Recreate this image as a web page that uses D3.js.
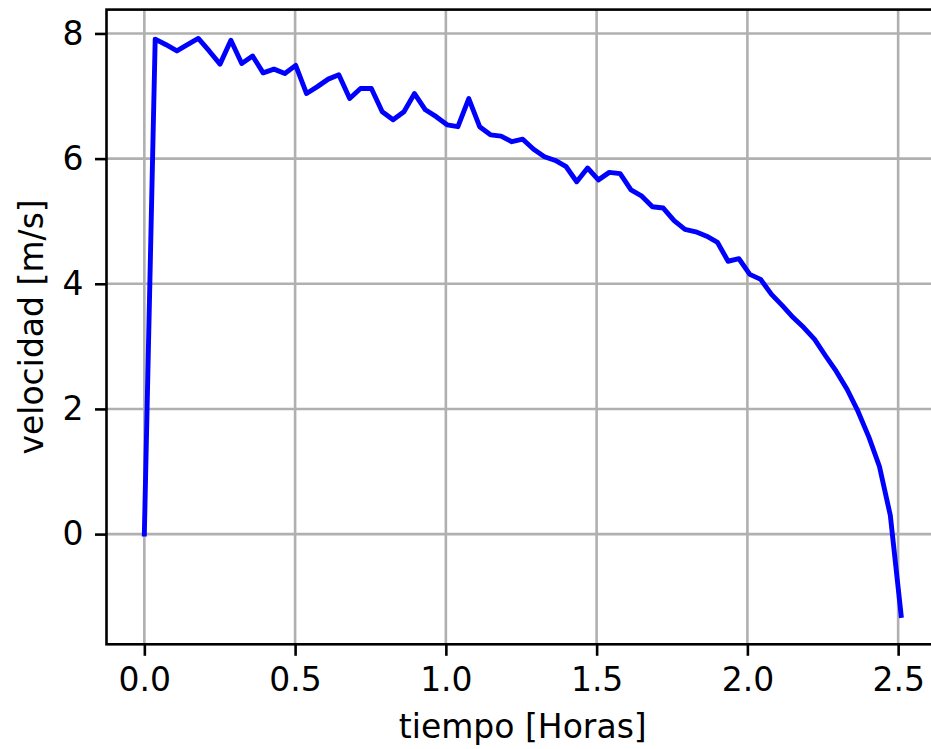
<!DOCTYPE html>
<html>
<head>
<meta charset="utf-8">
<script src="https://cdn.jsdelivr.net/npm/d3@7"></script>
<style>
  html, body { margin: 0; padding: 0; background: #ffffff; }
  svg { display: block; }
  text { font-family: "DejaVu Sans", sans-serif; fill: #000; }
</style>
</head>
<body>
<svg id="chart" width="931" height="749"></svg>
<script>
// Time since start (hours)
const tiempo = [
  0.000, 0.036, 0.072, 0.108, 0.143, 0.179, 0.215, 0.251, 0.287, 0.323,
  0.359, 0.394, 0.430, 0.466, 0.502, 0.538, 0.574, 0.610, 0.645, 0.681,
  0.717, 0.753, 0.789, 0.825, 0.861, 0.896, 0.932, 0.968, 1.004, 1.040,
  1.076, 1.112, 1.148, 1.183, 1.219, 1.255, 1.291, 1.327, 1.363, 1.399,
  1.434, 1.470, 1.506, 1.542, 1.578, 1.614, 1.650, 1.685, 1.721, 1.757,
  1.793, 1.829, 1.865, 1.901, 1.936, 1.972, 2.008, 2.044, 2.080, 2.116,
  2.152, 2.187, 2.223, 2.259, 2.295, 2.331, 2.367, 2.403, 2.438, 2.474,
  2.510
];

// Speed (m/s)
const velocidad = [
  0.00, 7.91, 7.82, 7.72, 7.82, 7.92, 7.72, 7.51, 7.89, 7.52,
  7.64, 7.37, 7.43, 7.36, 7.49, 7.04, 7.15, 7.27, 7.34, 6.96,
  7.12, 7.12, 6.75, 6.62, 6.75, 7.04, 6.78, 6.67, 6.54, 6.51,
  6.96, 6.51, 6.38, 6.36, 6.27, 6.31, 6.15, 6.03, 5.97, 5.87,
  5.63, 5.85, 5.66, 5.78, 5.76, 5.50, 5.40, 5.23, 5.21, 5.01,
  4.87, 4.83, 4.76, 4.66, 4.36, 4.40, 4.15, 4.07, 3.83, 3.65,
  3.46, 3.30, 3.11, 2.85, 2.60, 2.31, 1.96, 1.55, 1.08, 0.30,
  -1.30
];

const xTicks = [0.0, 0.5, 1.0, 1.5, 2.0, 2.5];
const yTicks = [0, 2, 4, 6, 8];

const xLabel = "tiempo [Horas]";
const yLabel = "velocidad [m/s]";

const svg = d3.select("#chart");

// Axes box in page pixels (right edge runs past the page width)
const box = { left: 106.5, right: 939, top: 9.6, bottom: 644.3 };

const pad = (ext) => {
  const m = (ext[1] - ext[0]) * 0.05;
  return [ext[0] - m, ext[1] + m];
};

const x = d3.scaleLinear()
  .domain(pad(d3.extent(tiempo)))
  .range([box.left, box.right]);

const y = d3.scaleLinear()
  .domain(pad(d3.extent(velocidad)))
  .range([box.bottom, box.top]);

const fontSize = 33;
const tickLen = 11.5;
const tickPad = 11.5;
const thin = 2.6;

const clipId = "plot-clip";
svg.append("defs").append("clipPath").attr("id", clipId)
  .append("rect")
  .attr("x", box.left).attr("y", box.top)
  .attr("width", box.right - box.left).attr("height", box.bottom - box.top);

// Grid lines
const grid = svg.append("g").attr("clip-path", `url(#${clipId})`);
grid.selectAll("line.gx").data(xTicks).enter().append("line")
  .attr("class", "gx")
  .attr("x1", d => x(d)).attr("x2", d => x(d))
  .attr("y1", box.top).attr("y2", box.bottom)
  .attr("stroke", "#b0b0b0").attr("stroke-width", thin);
grid.selectAll("line.gy").data(yTicks).enter().append("line")
  .attr("class", "gy")
  .attr("x1", box.left).attr("x2", box.right)
  .attr("y1", d => y(d)).attr("y2", d => y(d))
  .attr("stroke", "#b0b0b0").attr("stroke-width", thin);

// Data line
const line = d3.line()
  .x((d, i) => x(tiempo[i]))
  .y(d => y(d));

svg.append("g").attr("clip-path", `url(#${clipId})`)
  .append("path")
  .datum(velocidad)
  .attr("d", line)
  .attr("fill", "none")
  .attr("stroke", "#0000ff")
  .attr("stroke-width", 4.9)
  .attr("stroke-linejoin", "round")
  .attr("stroke-linecap", "square");

// Axes
const xAxis = d3.axisBottom(x)
  .tickValues(xTicks)
  .tickFormat(d3.format(".1f"))
  .tickSize(tickLen)
  .tickPadding(tickPad)
  .tickSizeOuter(0);

const yAxis = d3.axisLeft(y)
  .tickValues(yTicks)
  .tickFormat(d3.format("d"))
  .tickSize(tickLen)
  .tickPadding(tickPad)
  .tickSizeOuter(0);

const gx = svg.append("g")
  .attr("transform", `translate(0,${box.bottom})`)
  .call(xAxis);
const gy = svg.append("g")
  .attr("transform", `translate(${box.left},0)`)
  .call(yAxis);

[gx, gy].forEach(g => {
  g.select(".domain").remove();
  g.selectAll(".tick line").attr("stroke", "#000").attr("stroke-width", thin);
  g.selectAll(".tick text")
    .attr("font-size", fontSize)
    .attr("font-family", "DejaVu Sans, sans-serif")
    .attr("fill", "#000");
});

// Spines
svg.append("rect")
  .attr("x", box.left).attr("y", box.top)
  .attr("width", box.right - box.left).attr("height", box.bottom - box.top)
  .attr("fill", "none")
  .attr("stroke", "#000")
  .attr("stroke-width", thin);

// Axis titles
svg.append("text")
  .attr("x", (box.left + box.right) / 2)
  .attr("y", 738)
  .attr("text-anchor", "middle")
  .attr("font-size", fontSize)
  .text(xLabel);

svg.append("text")
  .attr("transform", `translate(43,${(box.top + box.bottom) / 2}) rotate(-90)`)
  .attr("text-anchor", "middle")
  .attr("font-size", fontSize)
  .text(yLabel);
</script>
</body>
</html>
